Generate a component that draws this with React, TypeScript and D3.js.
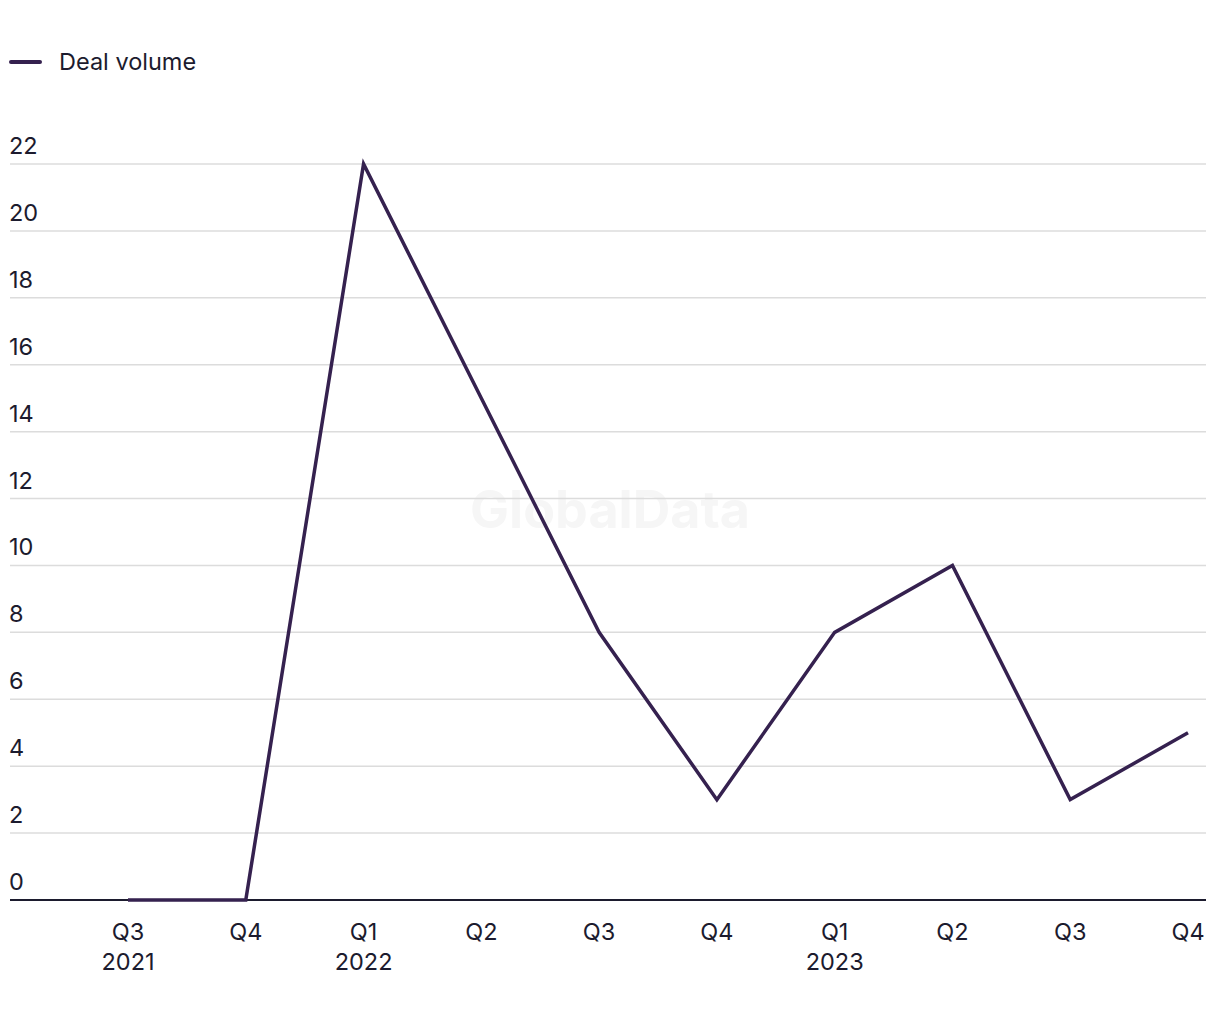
import React from "react";
import * as d3 from "d3";

const quarters = ["Q3", "Q4", "Q1", "Q2", "Q3", "Q4", "Q1", "Q2", "Q3", "Q4"];
const years = ["2021", "", "2022", "", "", "", "2023", "", "", ""];
const dealVolume = [0, 0, 22, 15, 8, 3, 8, 10, 3, 5];
const yTicks = [0, 2, 4, 6, 8, 10, 12, 14, 16, 18, 20, 22];

const W = 1220;
const H = 1020;
const FONT = "Inter, 'Noto Sans', sans-serif";
const TEXT = "#1c1b2e";
const LINE = "#35214f";
const FS = 23.5;

export default function App() {
  const x = d3.scalePoint<number>().domain(d3.range(quarters.length)).range([128, 1188]);
  const y = d3.scaleLinear().domain([0, 22]).range([900, 164]);
  const line = d3
    .line<number>()
    .x((_, i) => x(i)!)
    .y((d) => y(d));

  return (
    <svg width={W} height={H} style={{ position: "absolute", left: 0, top: 0 }} fontFamily={FONT}>
      <rect width={W} height={H} fill="#fff" />
      {/* legend */}
      <line x1={11} x2={40} y1={62} y2={62} stroke={LINE} strokeWidth={4} strokeLinecap="round" />
      <text x={59} y={70} fontSize={FS} fill={TEXT}>Deal volume</text>
      {/* watermark */}
      <text x={610} y={528} textAnchor="middle" fontSize={52} fontWeight={700} fill="#f6f6f6">GlobalData</text>
      {/* gridlines */}
      {yTicks.map((t) =>
        t === 0 ? null : (
          <line key={t} x1={10} x2={1206} y1={y(t)} y2={y(t)} stroke="#dcdcdc" strokeWidth={1.5} />
        )
      )}
      {yTicks.map((t) => (
        <text key={"l" + t} x={9} y={y(t) - 10} fontSize={FS} fill={TEXT}>{t}</text>
      ))}
      <line x1={10} x2={1206} y1={y(0)} y2={y(0)} stroke={TEXT} strokeWidth={2} />
      {/* x labels */}
      {quarters.map((q, i) => (
        <g key={"x" + i}>
          <text x={x(i)} y={940} textAnchor="middle" fontSize={FS} fill={TEXT}>{q}</text>
          {years[i] && (
            <text x={x(i)} y={970} textAnchor="middle" fontSize={FS} fill={TEXT}>{years[i]}</text>
          )}
        </g>
      ))}
      <path d={line(dealVolume)!} fill="none" stroke={LINE} strokeWidth={3.5} strokeLinejoin="miter" />
    </svg>
  );
}
